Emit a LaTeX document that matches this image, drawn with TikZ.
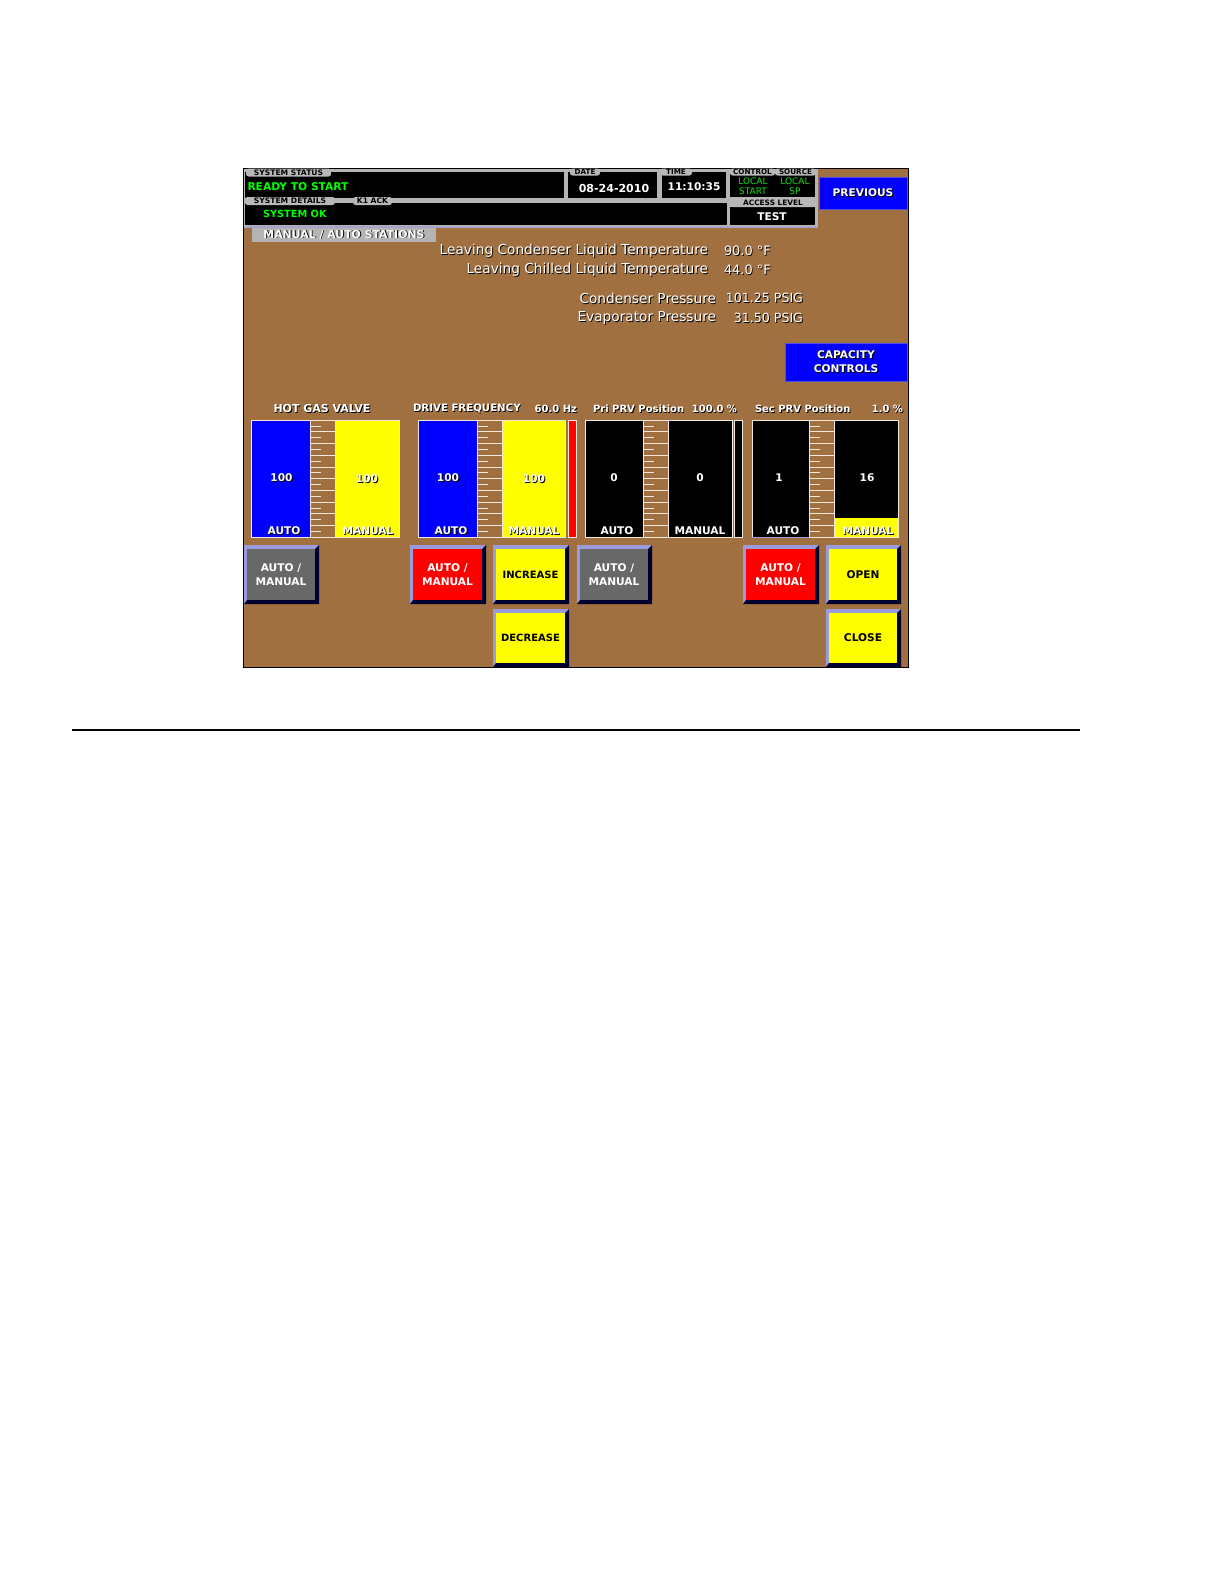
\documentclass[tikz,border=0pt]{standalone}
\usepackage{fontspec}
\setmainfont{DejaVu Sans}
\newcommand{\sh}[1]{\leavevmode\rlap{\kern0.9pt\raisebox{-0.9pt}{\color{black}#1}}#1}
\definecolor{scr}{HTML}{A07040}
\definecolor{frm}{HTML}{B4B4B4}
\definecolor{lav}{HTML}{9C9CDC}
\definecolor{navy}{HTML}{000030}
\definecolor{gface}{HTML}{686868}
\definecolor{tick}{HTML}{F4E8DC}
\definecolor{tabg}{HTML}{B8B8B8}
\definecolor{puregreen}{HTML}{00FF00}
\definecolor{softgreen}{HTML}{10E010}
\definecolor{pureyellow}{HTML}{FFFF00}
\definecolor{pureblue}{HTML}{0000FF}
\definecolor{purered}{HTML}{FF0000}
\tikzset{
  every node/.style={inner sep=0pt,outer sep=0pt},
  lbl/.style={text=white,font=\fontsize{#1}{#1}\selectfont},
  blbl/.style={text=white,font=\fontsize{#1}{#1}\selectfont\bfseries},
  grn/.style={text=puregreen,font=\fontsize{#1}{#1}\selectfont\bfseries,anchor=west},
  grs/.style={text=softgreen,font=\fontsize{9}{9}\selectfont},
  tab/.style={fill=tabg,rounded corners=2.5pt,text=black,font=\fontsize{#1}{#1}\selectfont\bfseries,anchor=north west,align=center},
  panel/.style={fill=black},
  gframe/.style={draw=tick,line width=0.9pt},
  btext/.style={align=center,font=\fontsize{10.6}{13.5}\selectfont\bfseries},
}
% name, x1,y1,x2,y2, face, text colour, text
\newcommand{\btn}[8]{%
  \fill[lav] (#2,#3) rectangle (#4,#5);
  \fill[navy] (#4,#3) -- (#4,#5) -- (#2,#5) -- (#2+3,#5-4) -- (#4-4,#5-4) -- (#4-4,#3+4) -- cycle;
  \node[fill=#6,text=#7,btext,anchor=north west,minimum width={(#4-#2-7)*1pt},minimum height={(#5-#3-8)*1pt}] (#1) at (#2+3,#3+4) {#8};
}
\begin{document}
\begin{tikzpicture}[x=1pt,y=-1pt]
\useasboundingbox (0,0) rectangle (1224,1584);
\fill[white] (0,0) rectangle (1224,1584);
% screen
\draw[fill=scr,draw=black,line width=1pt] (243.5,168) rectangle (908,667);
% header
\fill[frm] (244,168.5) rectangle (818,227);
\fill[lav!60!frm] (244,226) rectangle (818,227.5);
\fill[panel] (245,172) rectangle (564,198);
\fill[panel] (245,203) rectangle (727,225);
\fill[panel] (568,172) rectangle (657,198);
\fill[panel] (662,172) rectangle (726,198);
\fill[panel] (730,172) rectangle (815,197);
\fill[panel] (730,207) rectangle (815,225);
\node[tab=7.6,minimum width=85pt,minimum height=8pt] (t1) at (246,168.5) {SYSTEM STATUS};
\node[tab=7.6,minimum width=90pt,minimum height=8pt] (t2) at (245,197) {SYSTEM DETAILS};
\node[tab=7.6,minimum width=39pt,minimum height=8pt] (t3) at (353,197) {K1 ACK};
\node[tab=7.2,minimum width=30pt,minimum height=7pt] (t4) at (570,168.5) {DATE};
\node[tab=7.2,minimum width=32pt,minimum height=7pt] (t5) at (660,168.5) {TIME};
\node[tab=7.2,minimum width=45pt,minimum height=7pt] (t6) at (730,168.5) {CONTROL};
\node[tab=7.2,minimum width=41pt,minimum height=7pt] (t7) at (775,168.5) {SOURCE};
\node[tab=7.4,minimum width=86pt,minimum height=9pt] (t8) at (730,198) {ACCESS LEVEL};
\node[grn=10.7] (s1) at (247.5,187) {READY TO START};
\node[grn=9.8] (s2) at (263,213.5) {SYSTEM OK};
\node[blbl=11] (d1) at (614,188) {08-24-2010};
\node[blbl=10.6] (d2) at (694,187) {11:10:35};
\node[grs] (c1) at (753,181) {LOCAL};
\node[grs] (c2) at (753,191) {START};
\node[grs] (c3) at (795,181) {LOCAL};
\node[grs] (c4) at (795,191) {SP};
\node[blbl=10.6] (al) at (772,217) {TEST};
% previous / capacity
\node[fill=pureblue,text=white,draw=lav!50!blue,line width=0.8pt,font=\fontsize{10.6}{13}\selectfont\bfseries,anchor=north west,minimum width=88pt,minimum height=32pt] (prev) at (819,177) {\sh{PREVIOUS}};
\node[fill=pureblue,text=white,draw=lav!50!blue,line width=0.8pt,font=\fontsize{10.6}{14.5}\selectfont\bfseries,anchor=north west,align=center,minimum width=122pt,minimum height=38pt] (cap) at (785,343) {\sh{CAPACITY}\\\sh{CONTROLS}};
\node[fill=frm,text=white,blbl=10.9,anchor=north west,minimum width=184pt,minimum height=14pt] (mas) at (252,228) {\sh{MANUAL / AUTO STATIONS}};
% readouts
\node[lbl=13.7,anchor=east] (r1) at (708,251) {\sh{Leaving Condenser Liquid Temperature}};
\node[lbl=12.9,anchor=west] (r1v) at (724,251) {\sh{90.0 °F}};
\node[lbl=13.7,anchor=east] (r2) at (708,270) {\sh{Leaving Chilled Liquid Temperature}};
\node[lbl=12.9,anchor=west] (r2v) at (724,270) {\sh{44.0 °F}};
\node[lbl=13.7,anchor=east] (r3) at (716,298.5) {\sh{Condenser Pressure}};
\node[lbl=12.6,anchor=east] (r3v) at (803,298.5) {\sh{101.25 PSIG}};
\node[lbl=13.7,anchor=east] (r4) at (716,318) {\sh{Evaporator Pressure}};
\node[lbl=12.6,anchor=east] (r4v) at (803,318) {\sh{31.50 PSIG}};
% gauge titles
\node[blbl=11] (g1) at (322,409) {\sh{HOT GAS VALVE}};
\node[blbl=10.2,anchor=west] (g2) at (413,409) {\sh{DRIVE FREQUENCY}};
\node[blbl=10,anchor=east] (g2v) at (577,409) {\sh{60.0 Hz}};
\node[blbl=10,anchor=west] (g3) at (593,409) {\sh{Pri PRV Position}};
\node[blbl=10,anchor=east] (g3v) at (737,409) {\sh{100.0 \%}};
\node[blbl=10,anchor=west] (g4) at (755,409) {\sh{Sec PRV Position}};
\node[blbl=10,anchor=east] (g4v) at (903,409) {\sh{1.0 \%}};
% gauges
\foreach \n/\xa/\xb/\xc/\xd/\ca/\cb in {
  a/251/310/335/399/pureblue/pureyellow,
  b/418/477/502/565/pureblue/pureyellow,
  c/585/643/668/732/black/black,
  d/752/809/834/898/black/black}{
  \fill[\ca] (\xa,420) rectangle (\xb,537);
  \fill[\cb] (\xc,420) rectangle (\xd,537);
  \draw[gframe] (\xa,420) rectangle (\xb,537);
  \draw[gframe] (\xb,420) rectangle (\xc,537);
  \draw[gframe] (\xc,420) rectangle (\xd,537);
  \foreach \i in {0,2,...,18}{\draw[tick,line width=0.9pt] (\xb,426+5.86*\i) -- +(11,0);}
  \foreach \i in {1,3,...,17}{\draw[tick,line width=0.9pt] (\xb,426+5.86*\i) -- (\xc,426+5.86*\i);}
}
\fill[pureyellow] (834.5,518) rectangle (897.5,536.5);
\draw[lav,line width=0.9pt] (752,537) -- (809,537);
\foreach \n/\t/\x/\y in {aA/100/281.5/478.5,aM/100/367/479,bA/100/448/478.5,bM/100/534/479,cA/0/614/478.5,cM/0/700/478.5,dA/1/779/478.5,dM/16/867/478.5,
 aa/AUTO/284/531.5,am/MANUAL/368/531.5,ba/AUTO/451/531.5,bm/MANUAL/534/531.5,ca/AUTO/617/531.5,cm/MANUAL/700/531.5,da/AUTO/783/531.5,dm/MANUAL/868/531.5}{
  \node[blbl=10.6] (v\n) at (\x,\y) {\sh{\t}};
}
% side bars
\fill[purered] (568,420) rectangle (576,537);
\draw[gframe] (568,420) rectangle (576,537);
\fill[black] (734.5,420) rectangle (742,537);
\draw[gframe] (734.5,420) rectangle (742,537);
% buttons
\btn{b1}{244}{545}{319}{604}{gface}{white}{AUTO /\\MANUAL}
\btn{b2}{410}{545}{486}{604}{purered}{white}{AUTO /\\MANUAL}
\btn{b3}{493}{545}{569}{604}{pureyellow}{black}{\fontsize{10}{10}\selectfont INCREASE}
\btn{b4}{493}{609}{569}{667}{pureyellow}{black}{\fontsize{10}{10}\selectfont\raisebox{-2pt}{DECREASE}}
\btn{b5}{577}{545}{652}{604}{gface}{white}{AUTO /\\MANUAL}
\btn{b6}{743}{545}{819}{604}{purered}{white}{AUTO /\\MANUAL}
\btn{b7}{826}{545}{901}{604}{pureyellow}{black}{OPEN}
\btn{b8}{826}{609}{901}{667}{pureyellow}{black}{CLOSE}
% rule
\draw[black,line width=2pt] (72,729.5) -- (1080,729.5);
\end{tikzpicture}
\end{document}
